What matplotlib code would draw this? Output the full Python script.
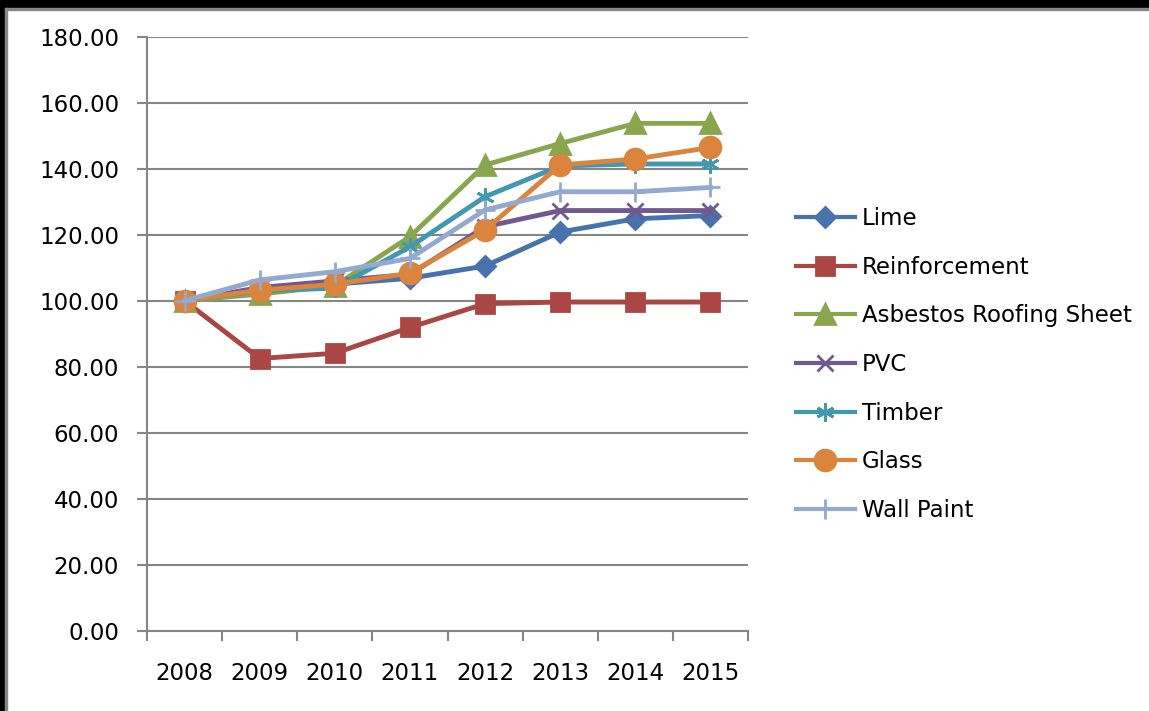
import matplotlib.pyplot as plt
from matplotlib.patches import Rectangle

years = ["2008", "2009", "2010", "2011", "2012", "2013", "2014", "2015"]

lime = [100.0, 103.0, 105.0, 106.8, 110.5, 120.8, 124.8, 125.8]
reinforcement = [100.0, 82.5, 84.1, 91.9, 99.1, 99.6, 99.6, 99.6]
asbestos = [100.0, 102.0, 104.5, 119.4, 141.1, 147.6, 153.7, 153.7]
pvc = [100.0, 104.0, 106.0, 108.0, 122.4, 127.3, 127.3, 127.3]
timber = [100.0, 103.0, 103.8, 116.3, 131.5, 140.8, 141.4, 141.4]
glass = [100.0, 103.2, 105.0, 108.3, 121.4, 141.1, 142.9, 146.4]
wall_paint = [100.0, 106.3, 108.8, 112.8, 127.5, 133.0, 133.0, 134.3]

series = [
    ("Lime", lime, "#4672AD", "D", 10.5),
    ("Reinforcement", reinforcement, "#AA4643", "s", 13),
    ("Asbestos Roofing Sheet", asbestos, "#89A54E", "^", 14),
    ("PVC", pvc, "#71588F", "x", 12),
    ("Timber", timber, "#4198AF", (6, 2, 0), 13),
    ("Glass", glass, "#DB843D", "o", 15),
    ("Wall Paint", wall_paint, "#93A9CF", "+", 15),
]

plt.rcParams['font.family'] = 'DejaVu Sans'

fig = plt.figure(figsize=(11.49, 7.11), dpi=100)
ax = fig.add_axes([147 / 1149, 80 / 711, 601 / 1149, 594.5 / 711])

x = list(range(len(years)))
for name, vals, color, marker, ms in series:
    ax.plot(x, vals, color=color, linewidth=3.5, marker=marker, markersize=ms,
            markeredgecolor=color, markerfacecolor=color, markeredgewidth=2,
            label=name, clip_on=False)

ax.set_ylim(0, 180)
ax.set_yticks(range(0, 181, 20))
ax.set_yticklabels([f"{v:.2f}" for v in range(0, 181, 20)])
ax.set_xlim(-0.5, len(years) - 0.5)
ax.set_xticks([i + 0.5 for i in range(-1, len(years))])
ax.set_xticklabels([])
ax.set_xticks(x, minor=True)
ax.set_xticklabels(years, minor=True)
ax.tick_params(axis='x', which='minor', length=0, pad=22, labelsize=16.5)
ax.tick_params(axis='x', which='major', length=7, color="#868686", width=1.5)
ax.tick_params(axis='y', length=7, color="#868686", width=1.5, labelsize=16.5, pad=13)

ax.grid(axis='y', color="#868686", linewidth=1.5)
ax.set_axisbelow(True)
for side in ("top", "right"):
    ax.spines[side].set_visible(False)
for side in ("left", "bottom"):
    ax.spines[side].set_color("#868686")
    ax.spines[side].set_linewidth(1.5)

leg = ax.legend(loc="center left", bbox_to_anchor=(1.045, 0.448), frameon=False,
                fontsize=16.5, handlelength=2.6, labelspacing=1.12, handletextpad=0.3)
for line in leg.get_lines():
    line.set_linewidth(3)

# outer frame strips
fig.patches.append(Rectangle((0, 1 - 8 / 711), 1, 8 / 711, transform=fig.transFigure,
                             color="black", zorder=10))
fig.patches.append(Rectangle((0, 0), 5 / 1149, 1, transform=fig.transFigure,
                             color="black", zorder=10))
fig.patches.append(Rectangle((5 / 1149, 1 - 10 / 711), 1, 2 / 711, transform=fig.transFigure,
                             color="#888888", zorder=10))
fig.patches.append(Rectangle((5 / 1149, 0), 2 / 1149, 1 - 8 / 711, transform=fig.transFigure,
                             color="#888888", zorder=10))

fig.savefig("out.png", dpi=100)
